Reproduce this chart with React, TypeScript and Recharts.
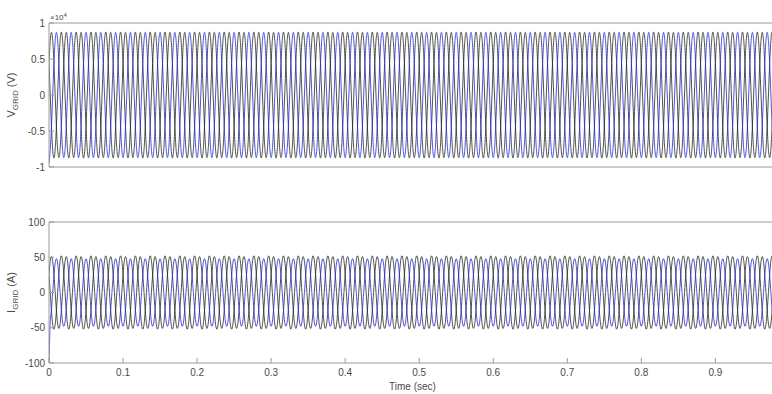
import React from 'react';
import { LineChart, Line, XAxis, YAxis, Label } from 'recharts';

// 50 Hz grid, sampled every 30 degrees (12 points per cycle)
const samplesPerSec = 600;
const tEnd = 0.99;
const timeTicks = [0, 0.1, 0.2, 0.3, 0.4, 0.5, 0.6, 0.7, 0.8, 0.9];

// one cycle of the waveform, per unit, read at 30 degree steps
const cycleShape = [0, 0.5, 0.87, 1, 0.87, 0.5, 0, -0.5, -0.87, -1, -0.87, -0.5];
// where each phase sits in the cycle at t = 0 (a = blue, b and c = black)
const phaseShift = [9, 5, 1];

const vPeak = [8700, 8750, 8700];
const iPeak = [48, 52, 51];
// first sample (switch-on transient)
const vStart = [-9500, 4350, 4350];
const iStart = [-98, 26, 26];

const vTicks = [-10000, -5000, 0, 5000, 10000];
const iTicks = [-100, -50, 0, 50, 100];

const blue = '#2424e0';
const black = '#262626';
const axisGrey = '#9a9a9a';
const textGrey = '#4a4a4a';
const font = '"Liberation Sans", Arial, sans-serif';

const rows = Array.from({ length: Math.round(tEnd * samplesPerSec) + 1 }, (_, k) => {
  const at = (p: number) => cycleShape[(k + phaseShift[p]) % cycleShape.length];
  return {
    t: k / samplesPerSec,
    va: k === 0 ? vStart[0] : vPeak[0] * at(0),
    vb: k === 0 ? vStart[1] : vPeak[1] * at(1),
    vc: k === 0 ? vStart[2] : vPeak[2] * at(2),
    ia: k === 0 ? iStart[0] : iPeak[0] * at(0),
    ib: k === 0 ? iStart[1] : iPeak[1] * at(1),
    ic: k === 0 ? iStart[2] : iPeak[2] * at(2),
  };
});

function YTitle({ viewBox, main, sub, unit }: any) {
  const cx = (viewBox?.x ?? 0) + 15;
  const cy = (viewBox?.y ?? 0) + (viewBox?.height ?? 0) / 2;
  return (
    <text x={cx} y={cy} transform={`rotate(-90 ${cx} ${cy})`} textAnchor="middle"
      fontFamily={font} fontSize={11} fill={textGrey}>
      {main}
      <tspan fontSize={8} dy={3}>{sub}</tspan>
      <tspan dy={-3}> {unit}</tspan>
    </text>
  );
}

function Exponent({ viewBox }: any) {
  const x = (viewBox?.x ?? 49) + 1;
  const y = (viewBox?.y ?? 0) + (viewBox?.height ?? 8) - 3;
  return (
    <text x={x} y={y} fontFamily={font} fontSize={8} fill={textGrey}>
      {'\u00d710'}
      <tspan fontSize={6} dy={-3}>4</tspan>
    </text>
  );
}

function TimeTitle({ viewBox }: any) {
  const x = (viewBox?.x ?? 0) + (viewBox?.width ?? 0) / 2 - 3;
  const y = (viewBox?.y ?? 0) + 27;
  return (
    <text x={x} y={y} textAnchor="middle" fontFamily={font} fontSize={10} fill={textGrey}>
      Time (sec)
    </text>
  );
}

const tickStyle = { fill: textGrey, fontSize: 10, fontFamily: font };

export default function App() {
  const common = {
    type: 'number' as const,
    dataKey: 't',
    domain: [0, tEnd],
    ticks: timeTicks,
    allowDataOverflow: true,
    tickSize: -5,
    stroke: axisGrey,
  };
  return (
    <div style={{ position: 'absolute', left: 0, top: 0, width: 772, height: 394, overflow: 'hidden', background: '#fff' }}>
      <div style={{ position: 'absolute', left: 0, top: 0 }}>
        <LineChart width={790} height={177} data={rows} margin={{ top: 15, right: 8, bottom: 0, left: 0 }}>
          <XAxis {...common} xAxisId="top" orientation="top" height={8} tick={false}>
            <Label content={<Exponent />} />
          </XAxis>
          <XAxis {...common} height={10} tick={false} />
          <YAxis domain={[-10000, 10000]} ticks={vTicks} width={49} tickSize={-5} tickMargin={9}
            allowDataOverflow stroke={axisGrey} tick={tickStyle}
            tickFormatter={(v: number) => String(v / 10000)}>
            <Label content={<YTitle main="V" sub="GRID" unit="(V)" />} />
          </YAxis>
          <Line dataKey="vb" type="monotone" stroke={black} strokeWidth={0.8} dot={false} isAnimationActive={false} />
          <Line dataKey="vc" type="monotone" stroke={black} strokeWidth={0.8} dot={false} isAnimationActive={false} />
          <Line dataKey="va" type="monotone" stroke={blue} strokeWidth={0.8} dot={false} isAnimationActive={false} />
        </LineChart>
      </div>
      <div style={{ position: 'absolute', left: 0, top: 200 }}>
        <LineChart width={790} height={194} data={rows} margin={{ top: 14, right: 8, bottom: 0, left: 0 }}>
          <XAxis {...common} xAxisId="top" orientation="top" height={8} tick={false} />
          <XAxis {...common} height={31} tickMargin={11} tick={tickStyle}>
            <Label content={<TimeTitle />} />
          </XAxis>
          <YAxis domain={[-100, 100]} ticks={iTicks} width={49} tickSize={-5} tickMargin={9}
            allowDataOverflow stroke={axisGrey} tick={tickStyle}>
            <Label content={<YTitle main="I" sub="GRID" unit="(A)" />} />
          </YAxis>
          <Line dataKey="ib" type="monotone" stroke={black} strokeWidth={0.8} dot={false} isAnimationActive={false} />
          <Line dataKey="ic" type="monotone" stroke={black} strokeWidth={0.8} dot={false} isAnimationActive={false} />
          <Line dataKey="ia" type="monotone" stroke={blue} strokeWidth={0.8} dot={false} isAnimationActive={false} />
        </LineChart>
      </div>
    </div>
  );
}
